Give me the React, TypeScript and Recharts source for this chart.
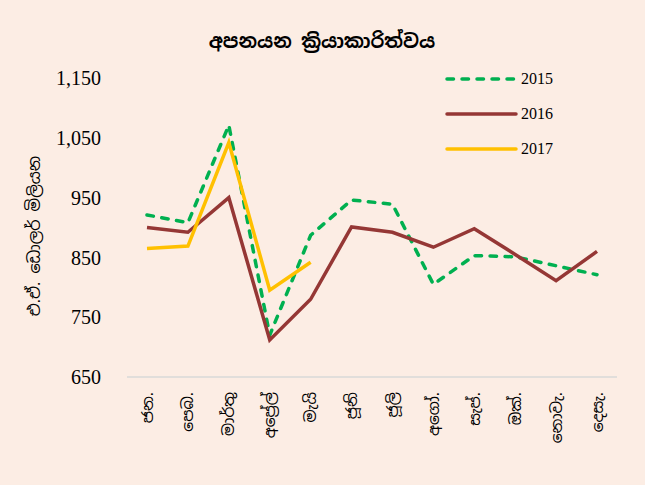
import React from 'react';
import { LineChart, Line, XAxis, YAxis } from 'recharts';

const months = ['ජන.', 'පෙබ.', 'මාර්තු', 'අප්‍රේල්', 'මැයි', 'ජූනි', 'ජූලි', 'අගෝ.', 'සැප්.', 'ඔක්.', 'නොවැ.', 'දෙසැ.'];
const s2015 = [921, 908, 1071, 720, 887, 946, 939, 805, 853, 851, 836, 821];
const s2016 = [900, 892, 950, 712, 780, 901, 892, 867, 898, 855, 811, 860];
const s2017: (number | null)[] = [865, 869, 1042, 795, 842, null, null, null, null, null, null, null];
const yTicks = [650, 750, 850, 950, 1050, 1150];

const title = 'අපනයන ක්‍රියාකාරිත්වය';
const yLabel = 'එ.ඒ. ඩොලර් මිලියන';

const data = months.map((m, i) => ({ m, a: s2015[i], b: s2016[i], c: s2017[i] }));

const SIN = "'Noto Sans Sinhala', 'Noto Serif Sinhala', 'Iskoola Pota', sans-serif";
const SERIF = "'Liberation Serif', 'DejaVu Serif', serif";

const GREEN = '#00B050';
const RED = '#953735';
const YELLOW = '#FFC000';

const XTick = (props: any) => {
  const { x, y, payload } = props;
  return (
    <text
      x={x}
      y={y}
      transform={`rotate(-90, ${x}, ${y})`}
      textAnchor="end"
      dominantBaseline="central"
      fontFamily={SIN}
      fontSize={15.5}
      fill="#000"
    >
      {payload.value}
    </text>
  );
};

const legendItems = [
  { name: '2015', color: GREEN, dash: '6.5 8.5' },
  { name: '2016', color: RED, dash: undefined },
  { name: '2017', color: YELLOW, dash: undefined },
];

const LegendBox = () => (
  <div style={{ position: 'absolute', left: 443, top: 69, width: 160, height: 110 }}>
    {legendItems.map((it, i) => (
      <div key={it.name} style={{ position: 'absolute', left: 0, top: i * 35, height: 20, display: 'flex', alignItems: 'center' }}>
        <svg width={76} height={20} style={{ display: 'block' }}>
          <line x1={4} y1={10} x2={73} y2={10} stroke={it.color} strokeWidth={3.5} strokeLinecap="round" strokeDasharray={it.dash} />
        </svg>
        <span style={{ fontFamily: SERIF, fontSize: 16, color: '#000', marginLeft: 2 }}>{it.name}</span>
      </div>
    ))}
  </div>
);

export default function App() {
  return (
    <div style={{ position: 'fixed', left: 0, top: 0, width: 645, height: 485, background: '#FCEDE4' }}>
      <LineChart width={645} height={485} data={data} margin={{ top: 78, right: 28, bottom: 0, left: 0 }}>
        <text x={322} y={41} textAnchor="middle" dominantBaseline="central" fontFamily={SIN} fontWeight="bold" fontSize={19} fill="#000">
          {title}
        </text>
        <text
          x={34}
          y={236}
          transform="rotate(-90, 34, 236)"
          textAnchor="middle"
          dominantBaseline="central"
          fontFamily={SIN}
          fontSize={16}
          fill="#000"
        >
          {yLabel}
        </text>
        <XAxis
          dataKey="m"
          interval={0}
          padding={{ left: 20, right: 20 }}
          axisLine={{ stroke: '#d9d9d9', strokeWidth: 1.5 }}
          tickLine={false}
          tickSize={0}
          tickMargin={15}
          tick={<XTick />}
          height={108}
        />
        <YAxis
          domain={[650, 1150]}
          ticks={yTicks}
          width={127}
          axisLine={false}
          tickLine={false}
          tickSize={0}
          tickMargin={26}
          tick={{ fontFamily: SERIF, fontSize: 20, fill: '#000' }}
          tickFormatter={(v: number) => v.toLocaleString('en-US')}
          allowDataOverflow
        />
        <Line dataKey="a" stroke={GREEN} strokeWidth={3.5} strokeDasharray="6.5 8.5" strokeLinecap="round" dot={false} isAnimationActive={false} />
        <Line dataKey="b" stroke={RED} strokeWidth={3.5} dot={false} isAnimationActive={false} />
        <Line dataKey="c" stroke={YELLOW} strokeWidth={3.5} dot={false} isAnimationActive={false} />
      </LineChart>
      <LegendBox />
    </div>
  );
}
